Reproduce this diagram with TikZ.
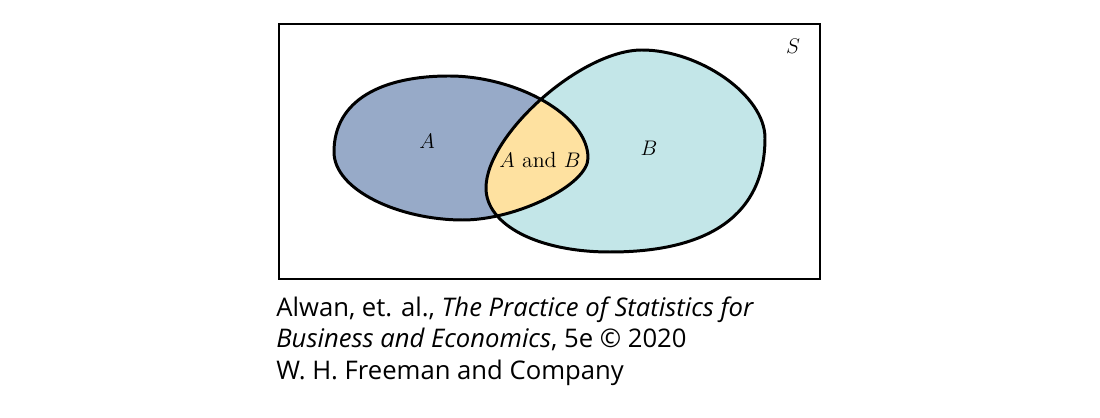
\documentclass[tikz,border=0pt]{standalone}
\usepackage{fontspec}
\newfontfamily\capfont{Open Sans}
\definecolor{setA}{RGB}{151,170,200}
\definecolor{setB}{RGB}{195,230,232}
\definecolor{setAB}{RGB}{254,225,160}
\def\shapeA{(334,152) .. controls (334,100) and (382,76) .. (449,76) .. controls (516,76) and (588,115) .. (588,158) .. controls (588,185) and (516,220) .. (463,220) .. controls (399,220) and (334,190) .. cycle}
\def\shapeB{(486,188) .. controls (486,135) and (581,50) .. (642,50) .. controls (699,50) and (765,95) .. (765,138) .. controls (765,215) and (709,252) .. (610,252) .. controls (538,252) and (486,225) .. cycle}
\begin{document}
\begin{tikzpicture}[x=0.02cm, y=-0.02cm, lab/.style={font=\fontsize{12.5}{15}\selectfont}, credit/.style={font=\capfont\fontsize{14.6}{17}\selectfont, anchor=base west, inner sep=0}]
\useasboundingbox (0,0) rectangle (1100,418);
\draw[line width=.75pt] (279,24) rectangle (820,279);
\fill[setB] \shapeB;
\fill[setA] \shapeA;
\begin{scope}
\clip \shapeA;
\fill[setAB] \shapeB;
\end{scope}
\draw[line width=1.7pt] \shapeB;
\draw[line width=1.7pt] \shapeA;
\node[lab] (S) at (793,46) {$S$};
\node[lab] (A) at (427,141) {$A$};
\node[lab] (B) at (649,148) {$B$};
\node[lab] (AB) at (540,160) {$A$ and $B$};
\node[credit] (cap1) at (276,317) {Alwan, et. al., {\itshape The Practice of Statistics for}};
\node[credit] (cap2) at (276,348) {{\itshape Business and Economics}, 5e © 2020};
\node[credit] (cap3) at (276,380) {W. H. Freeman and Company};
\end{tikzpicture}
\end{document}
